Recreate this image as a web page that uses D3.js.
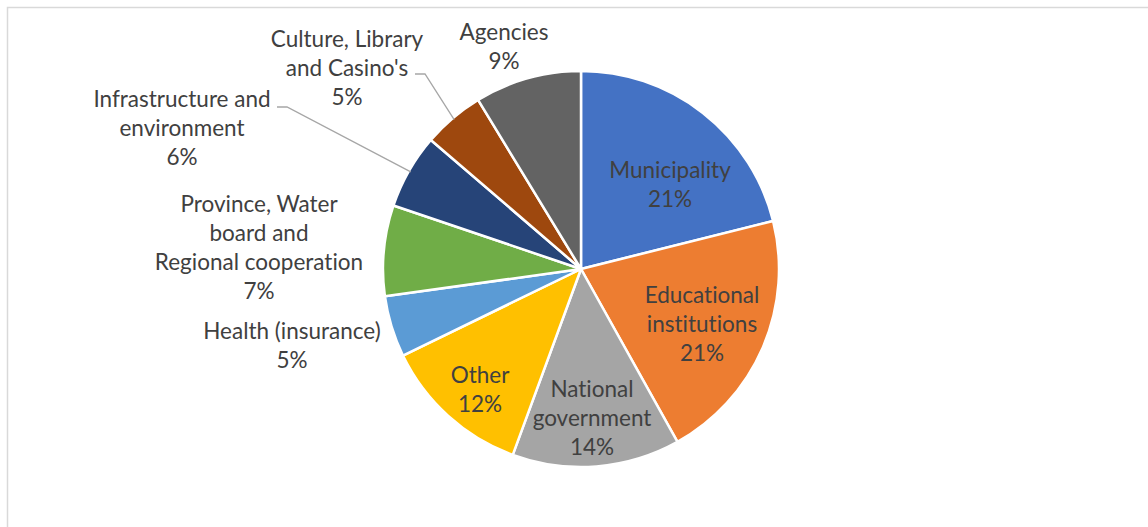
<!DOCTYPE html>
<html>
<head>
<meta charset="utf-8">
<script src="https://cdn.jsdelivr.net/npm/d3@7"></script>
<style>
  body { margin: 0; background: #fff; }
  svg { display: block; }
  text { font-variant-ligatures: none; }
</style>
</head>
<body>
<svg id="chart" width="1148" height="527"></svg>
<script>
// data, clockwise from 12 o'clock
const categories = [
    "Municipality", "Educational institutions", "National government", "Other",
    "Health (insurance)", "Province, Water board and Regional cooperation",
    "Infrastructure and environment", "Culture, Library and Casino's", "Agencies"
];
const shares = [21.1, 20.8, 13.7, 12.2, 5.0, 7.4, 6.1, 5.0, 8.7];
const pctLabels = ["21%", "21%", "14%", "12%", "5%", "7%", "6%", "5%", "9%"];
// how the category names wrap in the labels
const labelLines = [
    ["Municipality"],
    ["Educational", "institutions"],
    ["National", "government"],
    ["Other"],
    ["Health (insurance)"],
    ["Province, Water", "board and", "Regional cooperation"],
    ["Infrastructure and", "environment"],
    ["Culture, Library", "and Casino's"],
    ["Agencies"]
];

const colors = ["#4472C4", "#ED7D31", "#A5A5A5", "#FFC000", "#5B9BD5",
                "#70AD47", "#264478", "#9E480E", "#636363"];

// layout: label centre x and first baseline, relative to pie centre
const labelPos = [
    [89, -91], [121, 34], [11, 128], [-101, 114], [-289, 70],
    [-322, -57], [-399, -162], [-234, -222], [-77, -229]
];
// which labels get a leader line (start point of the line, relative to centre)
const leaders = { 6: [-304, -162], 7: [-166, -195] };

const cx = 581, cy = 269, radius = 198;
const fontFamily = "Lato, 'Open Sans', sans-serif";
const fontSize = 22.5;
const lineH = 29;
const textColor = "#404040";

const svg = d3.select("#chart");

// chart area frame (right and bottom run off the picture)
svg.append("rect")
    .attr("x", 7.5).attr("y", 7.5)
    .attr("width", 1300).attr("height", 700)
    .attr("fill", "none")
    .attr("stroke", "#d9d9d9")
    .attr("stroke-width", 1.5);

const pie = d3.pie().sort(null).value(d => d)(shares);
const arc = d3.arc().innerRadius(0).outerRadius(radius);

const g = svg.append("g").attr("transform", `translate(${cx},${cy})`);

g.selectAll("path.slice")
    .data(pie)
    .enter()
    .append("path")
    .attr("class", "slice")
    .attr("d", arc)
    .attr("fill", (d, i) => colors[i])
    .attr("stroke", "#fff")
    .attr("stroke-width", 2.5)
    .attr("stroke-linejoin", "round");

// leader lines: short horizontal tick, then to the slice's outer edge
Object.keys(leaders).forEach(k => {
    const i = +k;
    const d = pie[i];
    const mid = (d.startAngle + d.endAngle) / 2;
    const ex = Math.sin(mid) * radius * 0.99;
    const ey = -Math.cos(mid) * radius * 0.99;
    const [sx, sy] = leaders[k];
    g.append("polyline")
        .attr("points", `${sx},${sy} ${sx + 10},${sy} ${ex},${ey}`)
        .attr("fill", "none")
        .attr("stroke", "#a6a6a6")
        .attr("stroke-width", 1.3);
});

// labels
const labels = g.selectAll("text.lbl")
    .data(pie)
    .enter()
    .append("text")
    .attr("class", "lbl")
    .attr("text-anchor", "middle")
    .style("font-family", fontFamily)
    .style("font-size", fontSize + "px")
    .style("fill", textColor);

labels.each(function(d, i) {
    const t = d3.select(this);
    const [lx, ly] = labelPos[i];
    const lines = labelLines[i].concat([pctLabels[i]]);
    lines.forEach((s, j) => {
        t.append("tspan")
            .attr("x", lx)
            .attr("y", ly + j * lineH)
            .text(s);
    });
});
</script>
</body>
</html>
